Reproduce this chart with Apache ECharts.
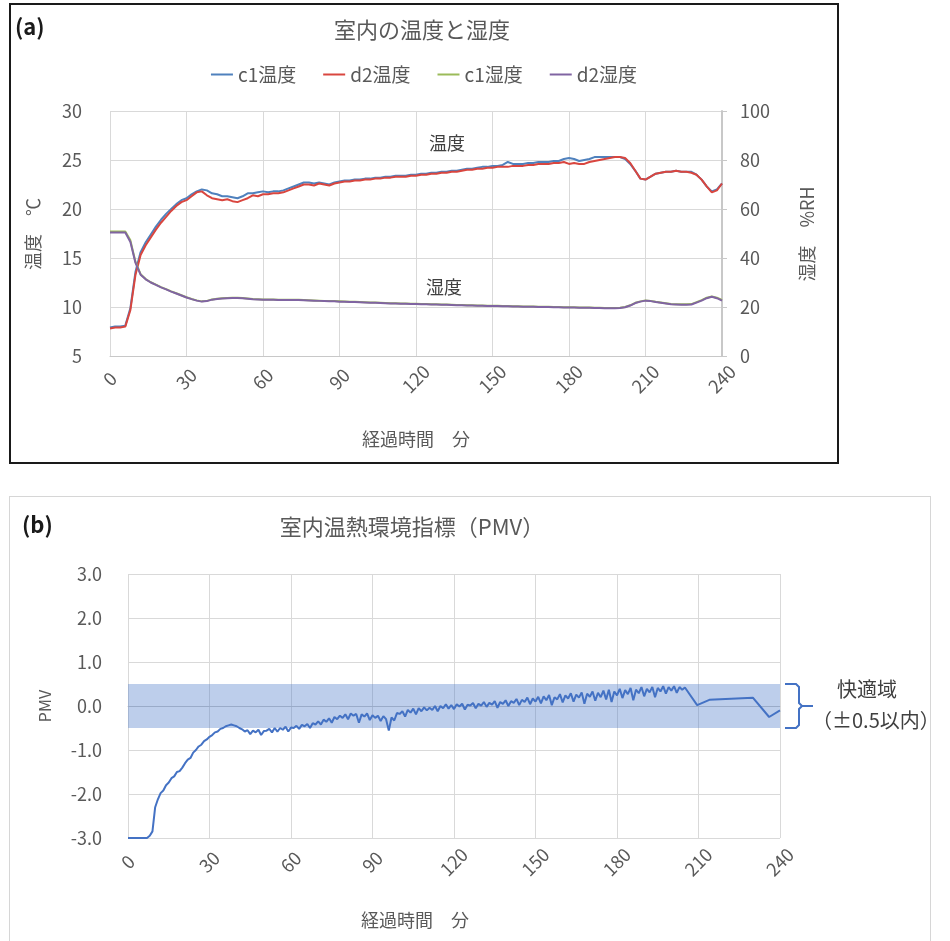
<!DOCTYPE html>
<html lang="ja">
<head>
<meta charset="utf-8">
<title>室内の温度と湿度 / PMV</title>
<script src="https://cdn.jsdelivr.net/npm/echarts@6.0.0/dist/echarts.min.js"></script>
<style>
  html, body { margin: 0; padding: 0; background: #fff; overflow: hidden; }
  body { width: 950px; height: 941px; position: relative; }
  #chartA {
    position: absolute; left: 9px; top: 3px;
    width: 826px; height: 457px;
    border: 2px solid #1a1a1a;
  }
  #chartB {
    position: absolute; left: 9px; top: 496px;
    width: 920px; height: 446px;
    border: 1px solid #d6d6d6;
  }
</style>
</head>
<body>
<div id="chartA"></div>
<div id="chartB"></div>
<script>
// 経過時間（分）の目盛
const timeTicks = [0, 30, 60, 90, 120, 150, 180, 210, 240]

// (a) 温度・湿度 : 2分ごとの値
const tempStep = 2
const c1Temp = [
  7.9, 8.0, 8.0, 8.1, 9.9, 13.6, 15.6, 16.6, 17.4, 18.2,
  18.9, 19.5, 20.0, 20.5, 20.9, 21.1, 21.5, 21.8, 22.0, 21.9,
  21.6, 21.5, 21.3, 21.3, 21.2, 21.1, 21.3, 21.6, 21.6, 21.7,
  21.8, 21.7, 21.8, 21.8, 21.9, 22.1, 22.3, 22.5, 22.7, 22.7,
  22.6, 22.7, 22.6, 22.5, 22.7, 22.8, 22.9, 22.9, 23.0, 23.0,
  23.1, 23.1, 23.2, 23.2, 23.3, 23.3, 23.4, 23.4, 23.4, 23.5,
  23.5, 23.6, 23.6, 23.7, 23.7, 23.8, 23.8, 23.9, 23.9, 24.0,
  24.1, 24.1, 24.2, 24.3, 24.3, 24.4, 24.4, 24.5, 24.8, 24.6,
  24.6, 24.6, 24.7, 24.7, 24.8, 24.8, 24.8, 24.9, 24.9, 25.1,
  25.2, 25.1, 24.9, 25.0, 25.1, 25.3, 25.3, 25.3, 25.3, 25.3,
  25.3, 25.1, 24.6, 23.9, 23.1, 23.0, 23.3, 23.6, 23.7, 23.8,
  23.8, 23.9, 23.8, 23.8, 23.8, 23.5, 23.0, 22.3, 21.8, 22.0,
  22.6
]
const d2Temp = [
  7.8, 7.9, 7.9, 8.0, 9.7, 13.3, 15.3, 16.3, 17.1, 17.9,
  18.6, 19.2, 19.8, 20.3, 20.7, 20.9, 21.3, 21.7, 21.8, 21.4,
  21.1, 21.0, 20.9, 21.0, 20.8, 20.7, 20.9, 21.1, 21.4, 21.3,
  21.5, 21.5, 21.6, 21.6, 21.7, 21.9, 22.1, 22.3, 22.5, 22.5,
  22.4, 22.6, 22.5, 22.4, 22.6, 22.7, 22.8, 22.8, 22.9, 22.9,
  23.0, 23.0, 23.1, 23.1, 23.2, 23.2, 23.3, 23.3, 23.3, 23.4,
  23.4, 23.5, 23.5, 23.6, 23.6, 23.7, 23.7, 23.8, 23.8, 23.9,
  24.0, 24.0, 24.1, 24.1, 24.2, 24.2, 24.3, 24.3, 24.3, 24.4,
  24.4, 24.4, 24.5, 24.5, 24.6, 24.6, 24.6, 24.7, 24.7, 24.8,
  24.6, 24.7, 24.6, 24.6, 24.8, 24.9, 25.0, 25.1, 25.2, 25.3,
  25.3, 25.2, 24.7, 23.9, 23.1, 23.0, 23.3, 23.6, 23.7, 23.8,
  23.8, 23.9, 23.8, 23.8, 23.7, 23.5, 23.0, 22.3, 21.7, 21.9,
  22.6
]
const c1Humid = [
  50.8, 50.8, 50.8, 50.8, 47.2, 38.4, 33.4, 31.4, 30.1, 29.1,
  28.1, 27.3, 26.4, 25.6, 24.8, 24.0, 23.3, 22.7, 22.3, 22.5,
  23.1, 23.4, 23.6, 23.7, 23.8, 23.8, 23.7, 23.5, 23.3, 23.2,
  23.1, 23.1, 23.1, 23.0, 23.0, 23.0, 23.0, 23.0, 22.9, 22.8,
  22.7, 22.6, 22.5, 22.4, 22.4, 22.3, 22.2, 22.1, 22.1, 22.0,
  21.9, 21.8, 21.8, 21.7, 21.6, 21.5, 21.5, 21.4, 21.4, 21.3,
  21.3, 21.2, 21.2, 21.1, 21.1, 21.0, 21.0, 20.9, 20.8, 20.8,
  20.7, 20.7, 20.6, 20.6, 20.5, 20.5, 20.5, 20.4, 20.4, 20.3,
  20.3, 20.2, 20.2, 20.2, 20.1, 20.1, 20.1, 20.0, 20.0, 19.9,
  19.9, 19.9, 19.8, 19.8, 19.8, 19.7, 19.7, 19.6, 19.6, 19.6,
  19.7, 20.0, 20.7, 21.7, 22.3, 22.7, 22.5, 22.1, 21.8, 21.5,
  21.2, 21.1, 21.1, 21.1, 21.2, 22.0, 22.8, 23.8, 24.3, 23.8,
  22.9
]
const d2Humid = [
  50.4, 50.4, 50.4, 50.4, 46.5, 38.0, 33.2, 31.3, 30.0, 29.0,
  28.0, 27.2, 26.3, 25.5, 24.7, 23.9, 23.2, 22.6, 22.2, 22.4,
  23.0, 23.3, 23.5, 23.6, 23.7, 23.7, 23.6, 23.4, 23.2, 23.1,
  23.0, 23.0, 23.0, 22.9, 22.9, 22.9, 22.9, 22.9, 22.8, 22.7,
  22.6, 22.5, 22.4, 22.3, 22.3, 22.1, 22.1, 22.0, 22.0, 21.9,
  21.8, 21.7, 21.7, 21.6, 21.5, 21.4, 21.4, 21.3, 21.3, 21.2,
  21.2, 21.1, 21.1, 21.0, 21.0, 20.9, 20.9, 20.8, 20.7, 20.7,
  20.6, 20.6, 20.5, 20.5, 20.4, 20.4, 20.4, 20.3, 20.3, 20.2,
  20.2, 20.1, 20.1, 20.1, 20.0, 20.0, 20.0, 19.9, 19.9, 19.8,
  19.8, 19.8, 19.7, 19.7, 19.7, 19.6, 19.6, 19.5, 19.5, 19.5,
  19.6, 19.9, 20.6, 21.6, 22.2, 22.6, 22.4, 22.0, 21.7, 21.4,
  21.1, 21.0, 20.9, 20.9, 21.0, 21.8, 22.6, 23.6, 24.2, 23.6,
  22.6
]

// (b) PMV : 1分ごとの値（0〜205分）と、その後の点
const pmvStep = 1
const pmvVal = [
  -3, -3, -3, -3, -3, -3, -3, -3, -2.95, -2.85,
  -2.3, -2.12, -1.98, -1.92, -1.8, -1.74, -1.64, -1.6, -1.5, -1.48,
  -1.4, -1.3, -1.22, -1.18, -1.06, -1.0, -0.92, -0.88, -0.8, -0.76,
  -0.7, -0.66, -0.6, -0.58, -0.52, -0.5, -0.46, -0.44, -0.42, -0.44,
  -0.46, -0.5, -0.53, -0.58, -0.55, -0.64, -0.56, -0.6, -0.54, -0.66,
  -0.57, -0.56, -0.52, -0.6, -0.5, -0.58, -0.5, -0.54, -0.47, -0.58,
  -0.49, -0.5, -0.45, -0.52, -0.43, -0.46, -0.41, -0.5, -0.39, -0.42,
  -0.35, -0.42, -0.31, -0.36, -0.28, -0.38, -0.25, -0.3, -0.22, -0.27,
  -0.19, -0.3, -0.17, -0.22, -0.18, -0.38, -0.19, -0.24, -0.17, -0.32,
  -0.21, -0.27, -0.22, -0.34, -0.23, -0.3, -0.56, -0.26, -0.33, -0.16,
  -0.18, -0.12, -0.24, -0.09, -0.15, -0.06, -0.19, -0.05, -0.12, -0.03,
  -0.1, -0.04, -0.09, 0.0, -0.12, 0.0, -0.05, 0.04, -0.06, 0.02,
  -0.07, 0.04, -0.01, 0.05, -0.08, 0.03, 0.01, 0.07, -0.05, 0.05,
  0.01, 0.09, -0.02, 0.07, 0.03, 0.11, -0.04, 0.09, 0.05, 0.13,
  0.0, 0.11, 0.07, 0.16, 0.02, 0.14, 0.09, 0.19, 0.04, 0.17,
  0.1, 0.21, 0.06, 0.22, 0.13, 0.25, 0.02, 0.2, 0.15, 0.27,
  0.08, 0.24, 0.17, 0.29, 0.1, 0.26, 0.19, 0.31, 0.05, 0.28,
  0.21, 0.33, 0.12, 0.3, 0.2, 0.35, 0.15, 0.37, 0.09, 0.33,
  0.24, 0.39, 0.18, 0.36, 0.27, 0.41, 0.13, 0.37, 0.29, 0.43,
  0.22, 0.39, 0.31, 0.43, 0.2, 0.41, 0.33, 0.45, 0.28, 0.43,
  0.35, 0.45, 0.3, 0.43, 0.37, 0.42
]
const pmvTailMin = [209.5, 214, 230, 236, 240]
const pmvTailVal = [0.02, 0.14, 0.19, -0.25, -0.1]

// 快適域 ±0.5
const comfortLow = -0.5
const comfortHigh = 0.5

const FONT = '"Noto Sans CJK JP", "Noto Sans", sans-serif'
const TXT = '#595959'
const GRID = '#d9d9d9'

function toPairs(vals, step) {
  return vals.map((v, i) => [i * step, v])
}

function timeAxis(nameGap, labelMargin, namePad) {
  return {
    type: 'value',
    min: timeTicks[0],
    max: timeTicks[timeTicks.length - 1],
    interval: timeTicks[1] - timeTicks[0],
    name: '経過時間　分',
    nameLocation: 'middle',
    nameGap: nameGap,
    nameMoveOverlap: false,
    nameTextStyle: { color: TXT, fontSize: 18, padding: namePad },
    axisLine: { show: true, lineStyle: { color: '#c8c8c8', width: 1 } },
    axisTick: { show: false },
    axisLabel: {
      color: TXT, fontSize: 18, rotate: 45,
      align: 'center', verticalAlign: 'middle', margin: labelMargin
    },
    splitLine: { show: true, lineStyle: { color: GRID, width: 1 } }
  }
}

// 縦書き（下から上）の軸名
function sideName(text, x, y, size) {
  return {
    type: 'text', x: x, y: y, rotation: Math.PI / 2,
    style: { text: text, fill: TXT, fontSize: size, fontFamily: FONT, align: 'center', verticalAlign: 'middle' }
  }
}

// ---------- (a) ----------
let chartA = echarts.init(document.getElementById('chartA'))

chartA.setOption({
  animation: false,
  textStyle: { fontFamily: FONT },
  color: ['#4f81bd', '#d9463f', '#9bbb59', '#8064a2'],
  grid: { left: 99, top: 106, width: 612, height: 245 },
  legend: {
    top: 55,
    left: 'center',
    icon: 'rect',
    itemWidth: 22,
    itemHeight: 2,
    itemGap: 27,
    textStyle: { color: TXT, fontSize: 19 },
    data: ['c1温度', 'd2温度', 'c1湿度', 'd2湿度']
  },
  xAxis: timeAxis(74, 23, 0),
  yAxis: [
    {
      type: 'value', min: 5, max: 30, interval: 5,
      axisLine: { show: false },
      axisTick: { show: false },
      axisLabel: { color: TXT, fontSize: 18, margin: 28 },
      splitLine: { lineStyle: { color: GRID, width: 1 } }
    },
    {
      type: 'value', min: 0, max: 100, interval: 20, position: 'right',
      axisLine: { show: true, lineStyle: { color: '#c8c8c8', width: 2 } },
      axisTick: { show: true, length: 5, lineStyle: { color: '#c8c8c8' } },
      axisLabel: { color: TXT, fontSize: 18, margin: 18 },
      splitLine: { show: false }
    }
  ],
  series: [
    { name: 'c1温度', type: 'line', yAxisIndex: 0, symbol: 'none', lineStyle: { width: 2 }, data: toPairs(c1Temp, tempStep) },
    { name: 'd2温度', type: 'line', yAxisIndex: 0, symbol: 'none', lineStyle: { width: 2 }, data: toPairs(d2Temp, tempStep) },
    { name: 'c1湿度', type: 'line', yAxisIndex: 1, symbol: 'none', lineStyle: { width: 2 }, data: toPairs(c1Humid, tempStep) },
    { name: 'd2湿度', type: 'line', yAxisIndex: 1, symbol: 'none', lineStyle: { width: 2 }, data: toPairs(d2Humid, tempStep) }
  ],
  graphic: [
    { type: 'text', x: 4, y: 22, style: { text: '(a)', fill: '#1a1a1a', fontSize: 22, fontWeight: 'bold', fontFamily: FONT, verticalAlign: 'middle' } },
    { type: 'text', x: 411, y: 25, style: { text: '室内の温度と湿度', fill: TXT, fontSize: 22, fontFamily: FONT, align: 'center', verticalAlign: 'middle' } },
    { type: 'text', x: 436, y: 138, style: { text: '温度', fill: '#404040', fontSize: 18, fontFamily: FONT, align: 'center', verticalAlign: 'middle' } },
    { type: 'text', x: 433, y: 282, style: { text: '湿度', fill: '#404040', fontSize: 18, fontFamily: FONT, align: 'center', verticalAlign: 'middle' } },
    sideName('温度　℃', 22, 229, 18),
    sideName('湿度　%RH', 796, 229, 18)
  ]
})

// ---------- (b) ----------
let chartB = echarts.init(document.getElementById('chartB'))

const pmvData = toPairs(pmvVal, pmvStep).concat(pmvTailMin.map((t, i) => [t, pmvTailVal[i]]))

chartB.setOption({
  animation: false,
  textStyle: { fontFamily: FONT },
  grid: { left: 118, top: 77, width: 652, height: 264 },
  xAxis: timeAxis(73, 24, [0, 78, 0, 0]),
  yAxis: {
    type: 'value', min: -3, max: 3, interval: 1,
    axisLine: { show: false },
    axisTick: { show: false },
    axisLabel: { color: TXT, fontSize: 18, margin: 26, formatter: v => v.toFixed(1) },
    splitLine: { lineStyle: { color: GRID, width: 1 } }
  },
  series: [
    {
      // 快適域の帯
      type: 'line', data: [], silent: true,
      markArea: {
        silent: true,
        itemStyle: { color: 'rgba(72,118,200,0.36)' },
        data: [[{ yAxis: comfortLow, xAxis: timeTicks[0] }, { yAxis: comfortHigh, xAxis: timeTicks[timeTicks.length - 1] }]]
      }
    },
    {
      name: 'PMV', type: 'line', symbol: 'none',
      lineStyle: { color: '#4472c4', width: 2 },
      data: pmvData
    }
  ]
})

// 右側の括弧と「快適域」
const xr = chartB.convertToPixel({ xAxisIndex: 0 }, timeTicks[timeTicks.length - 1])
const yT = chartB.convertToPixel({ yAxisIndex: 0 }, comfortHigh)
const yB = chartB.convertToPixel({ yAxisIndex: 0 }, comfortLow)
const yM = (yT + yB) / 2
const x0 = xr + 5, xv = xr + 19, xt = xr + 33
const brace = [
  [x0, yT], [xv - 3, yT], [xv, yT + 3], [xv, yM - 3], [xv + 3, yM], [xt, yM],
  [xv + 3, yM], [xv, yM + 3], [xv, yB - 3], [xv - 3, yB], [x0, yB]
]

chartB.setOption({
  graphic: [
    { type: 'text', x: 12, y: 28, style: { text: '(b)', fill: '#1a1a1a', fontSize: 22, fontWeight: 'bold', fontFamily: FONT, verticalAlign: 'middle' } },
    { type: 'text', x: 402, y: 30, style: { text: '室内温熱環境指標（PMV）', fill: TXT, fontSize: 22, fontFamily: FONT, align: 'center', verticalAlign: 'middle' } },
    sideName('PMV', 35, 209, 16),
    { type: 'polyline', shape: { points: brace }, style: { fill: null, stroke: '#4472c4', lineWidth: 2 } },
    { type: 'text', x: xr + 87, y: yM - 17, style: { text: '快適域', fill: '#404040', fontSize: 20, fontFamily: FONT, align: 'center', verticalAlign: 'middle' } },
    { type: 'text', x: xt - 1, y: yM + 14, style: { text: '（±0.5以内）', fill: '#404040', fontSize: 20, fontFamily: FONT, align: 'left', verticalAlign: 'middle' } }
  ]
})

window.addEventListener('resize', () => {
  chartA.resize()
  chartB.resize()
})
</script>
</body>
</html>
